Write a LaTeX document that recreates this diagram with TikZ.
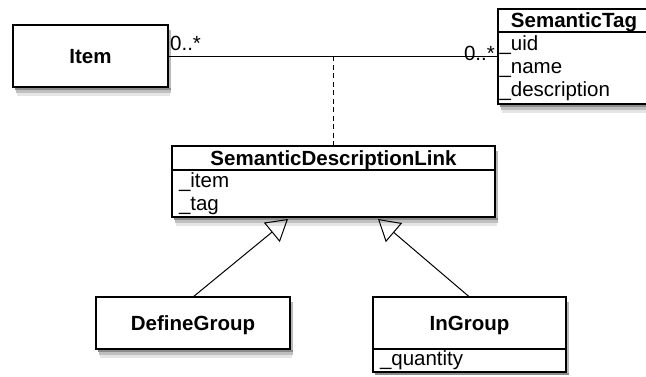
\documentclass[tikz,border=0pt]{standalone}
\usepackage{fontspec}
\setmainfont{Liberation Sans}
\usepackage{tikz}
\usetikzlibrary{positioning,arrows.meta,calc}
\newcommand{\umlsize}{\fontsize{20.5}{23}\selectfont}
\tikzset{
  clsbox/.style={draw=black,line width=1.1pt,fill=white,outer sep=0pt,
    inner sep=0pt,text depth=0pt,font=\umlsize\bfseries},
  attrbox/.style={draw=black,line width=1.1pt,fill=white,outer sep=0pt,
    inner ysep=0pt,inner xsep=7pt,align=left,font=\umlsize},
  assoc/.style={line width=1pt},
  depline/.style={line width=1pt,dash pattern=on 5pt off 3.5pt},
  gen/.style={-{Triangle[open,length=21pt,width=25pt]},line width=1pt},
  multlbl/.style={font=\umlsize,inner sep=0pt},
}

\begin{document}
\begin{tikzpicture}[x=1pt,y=-1pt]
  \useasboundingbox (0,0) rectangle (646,376);
  \node[clsbox,minimum width=155pt,minimum height=62pt] (item) at (90.5,56) {Item};
  \node[clsbox,minimum width=152pt,minimum height=23pt] (tag) at (574,20.5) {SemanticTag};
  \node[attrbox,below=0pt of tag,inner xsep=1.5pt,text width=149pt,minimum height=72pt]
    (tagattr) {\_uid\\\_name\\\_description};
  \node[clsbox,minimum width=323pt,minimum height=24pt] (sdl) at (333.5,158)
    {SemanticDescriptionLink};
  \node[attrbox,below=0pt of sdl,text width=309pt,minimum height=47pt]
    (sdlattr) {\_item\\\_tag};
  \node[clsbox,minimum width=194pt,minimum height=52pt] (dg) at (193,323) {DefineGroup};
  \node[clsbox,minimum width=193pt,minimum height=52pt] (ig) at (469.5,323) {InGroup};
  \node[attrbox,below=0pt of ig,text width=179pt,minimum height=23pt]
    (igattr) {\_quantity};

  \fill[black!28] ($(item.north east)+(1,5)$) rectangle ($(item.south east)+(3,1)$);
  \fill[black!45] ($(item.south west)+(2,1)$) rectangle ($(item.south east)+(3,3)$);
  \fill[black!25] ($(item.south west)+(3,3)$) rectangle ($(item.south east)+(3,6)$);
  \fill[black!10] ($(item.south west)+(4,6)$) rectangle ($(item.south east)+(2,9)$);

  \fill[black!45] ($(tagattr.south west)+(2,1)$) rectangle ($(tagattr.south east)+(3,3)$);
  \fill[black!25] ($(tagattr.south west)+(3,3)$) rectangle ($(tagattr.south east)+(3,6)$);
  \fill[black!10] ($(tagattr.south west)+(4,6)$) rectangle ($(tagattr.south east)+(2,9)$);

  \fill[black!28] ($(sdl.north east)+(1,5)$) rectangle ($(sdlattr.south east)+(3,1)$);
  \fill[black!45] ($(sdlattr.south west)+(2,1)$) rectangle ($(sdlattr.south east)+(3,3)$);
  \fill[black!25] ($(sdlattr.south west)+(3,3)$) rectangle ($(sdlattr.south east)+(3,6)$);
  \fill[black!10] ($(sdlattr.south west)+(4,6)$) rectangle ($(sdlattr.south east)+(2,9)$);

  \fill[black!28] ($(dg.north east)+(1,5)$) rectangle ($(dg.south east)+(3,1)$);
  \fill[black!45] ($(dg.south west)+(2,1)$) rectangle ($(dg.south east)+(3,3)$);
  \fill[black!25] ($(dg.south west)+(3,3)$) rectangle ($(dg.south east)+(3,6)$);
  \fill[black!10] ($(dg.south west)+(4,6)$) rectangle ($(dg.south east)+(2,9)$);

  \fill[black!28] ($(ig.north east)+(1,5)$) rectangle ($(igattr.south east)+(3,1)$);
  \fill[black!45] ($(igattr.south west)+(2,1)$) rectangle ($(igattr.south east)+(3,3)$);

  \draw[assoc] (item.east) -- (item.east -| tagattr.west);
  \node[multlbl,anchor=base west] (mitem) at ($(item.east)+(2,-6)$) {0..*};
  \node[multlbl,anchor=base east] (mtag) at ($(item.east -| tagattr.west)+(-3,4)$) {0..*};
  \draw[depline] (sdl.north) -- (sdl.north |- item.east);
  \draw[gen] (dg.north) -- ([xshift=-45.5pt,yshift=-2pt]sdlattr.south);
  \draw[gen] (ig.north) -- ([xshift=44.5pt,yshift=-2pt]sdlattr.south);
\end{tikzpicture}
\end{document}
